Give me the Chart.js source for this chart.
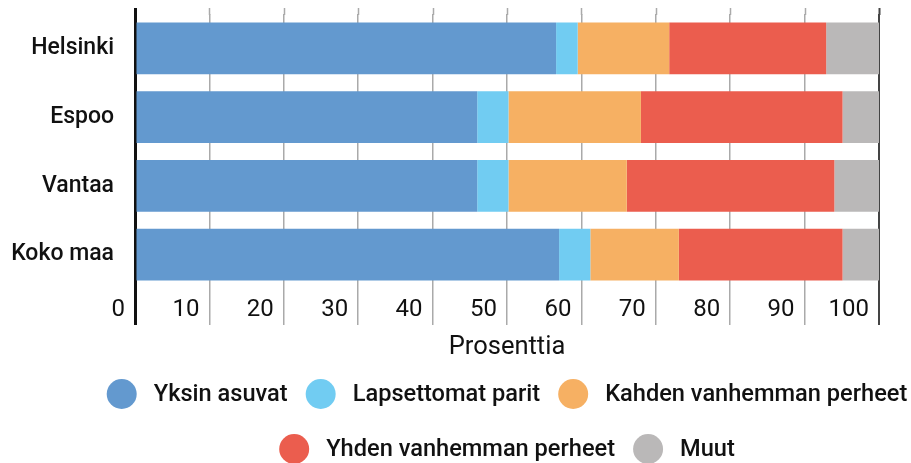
<!DOCTYPE html>
<html>
<head>
<meta charset="utf-8">
<script src="https://cdn.jsdelivr.net/npm/chart.js@4.4.1/dist/chart.umd.min.js"></script>
<style>
  html, body { margin: 0; padding: 0; background: #fff; }
  #wrap { width: 911px; height: 463px; }
</style>
</head>
<body>
<div id="wrap"><canvas id="chart" width="911" height="463"></canvas></div>
<script>
// data (percent)
const cities = ["Helsinki", "Espoo", "Vantaa", "Koko maa"];
const seriesNames = ["Yksin asuvat", "Lapsettomat parit", "Kahden vanhemman perheet", "Yhden vanhemman perheet", "Muut"];
const yksin = [56.6, 46.0, 46.0, 57.0];
const lapsettomat = [2.9, 4.2, 4.2, 4.2];
const kahden = [12.3, 17.8, 15.9, 11.9];
const yhden = [21.1, 27.1, 27.9, 22.0];
const muut = [7.1, 4.9, 6.0, 4.9];
const xTicks = [0, 10, 20, 30, 40, 50, 60, 70, 80, 90, 100];
const colors = ["#6399CF", "#71CCF2", "#F6B063", "#EB5D4E", "#BAB8B8"];

const seriesValues = [yksin, lapsettomat, kahden, yhden, muut];
const legendRows = [[0, 1, 2], [3, 4]];

const gridColor = v => v === 0 ? "#111" : (v === 100 ? "#444" : "#aaa");
const gridWidth = v => v === 0 ? 3 : (v === 100 ? 2 : 1.5);

// grid lines poke a little above the chart area in the original
const gridStubs = {
  id: "gridStubs",
  beforeDatasetsDraw(chart) {
    const ctx = chart.ctx;
    const xs = chart.scales.x;
    const top = chart.chartArea.top;
    ctx.save();
    xTicks.forEach(v => {
      const px = Math.round(xs.getPixelForValue(v)) + 0.5;
      ctx.strokeStyle = gridColor(v);
      ctx.lineWidth = gridWidth(v);
      ctx.beginPath();
      ctx.moveTo(px, top - 6);
      ctx.lineTo(px, top + 1);
      ctx.stroke();
    });
    ctx.restore();
  }
};

// legend drawn under the axis title, two centred rows like the original
const circleLegend = {
  id: "circleLegend",
  afterDraw(chart) {
    const ctx = chart.ctx;
    const area = chart.chartArea;
    const mid = (area.left + area.right) / 2;
    const r = 15, gapText = 17, gapItem = 18;
    const rowY = [394, 449];
    ctx.save();
    ctx.font = "500 23.6px Roboto";
    ctx.textBaseline = "middle";
    ctx.textAlign = "left";
    legendRows.forEach((row, ri) => {
      const widths = row.map(i => 2 * r + gapText + ctx.measureText(chart.data.datasets[i].label).width);
      const total = widths.reduce((a, b) => a + b, 0) + gapItem * (row.length - 1);
      let x = mid - total / 2;
      row.forEach((i, k) => {
        const ds = chart.data.datasets[i];
        ctx.fillStyle = ds.backgroundColor;
        ctx.beginPath();
        ctx.arc(x + r, rowY[ri], r, 0, Math.PI * 2);
        ctx.fill();
        ctx.fillStyle = "#111";
        ctx.fillText(ds.label, x + 2 * r + gapText, rowY[ri] + 1);
        x += widths[k] + gapItem;
      });
    });
    ctx.restore();
  }
};

new Chart(document.getElementById("chart"), {
  type: "bar",
  data: {
    labels: cities,
    datasets: seriesNames.map((name, i) => ({
      label: name,
      data: seriesValues[i],
      backgroundColor: colors[i],
      borderWidth: 0,
      barPercentage: 0.756,
      categoryPercentage: 1
    }))
  },
  options: {
    indexAxis: "y",
    responsive: false,
    animation: false,
    layout: { padding: { top: 14, right: 32, left: 0, bottom: 0 } },
    plugins: {
      legend: { display: false },
      tooltip: { enabled: false }
    },
    scales: {
      x: {
        stacked: true,
        min: 0,
        max: 100,
        afterBuildTicks: s => { s.ticks = xTicks.map(v => ({ value: v })); },
        afterFit: s => { s.height = 174; s.paddingLeft = 0; s.paddingRight = 0; },
        border: { display: false },
        grid: {
          color: c => gridColor(c.tick ? c.tick.value : -1),
          lineWidth: c => gridWidth(c.tick ? c.tick.value : -1),
          tickLength: 36
        },
        ticks: {
          align: "end",
          labelOffset: -10,
          padding: -29,
          color: "#111",
          font: { family: "Roboto", size: 24, weight: "400" }
        },
        title: {
          display: true,
          text: "Prosenttia",
          color: "#111",
          padding: { top: 0, bottom: 100 },
          font: { family: "Roboto", size: 25.5, weight: "400" }
        }
      },
      y: {
        stacked: true,
        afterFit: s => { s.width = 135; s.paddingTop = 0; s.paddingBottom = 0; },
        grid: { display: false, drawTicks: false },
        border: { display: true, color: "#111", width: 3 },
        ticks: {
          padding: 21,
          color: "#111",
          font: { family: "Roboto", size: 23, weight: "500" }
        }
      }
    }
  },
  plugins: [gridStubs, circleLegend]
});
</script>
</body>
</html>
